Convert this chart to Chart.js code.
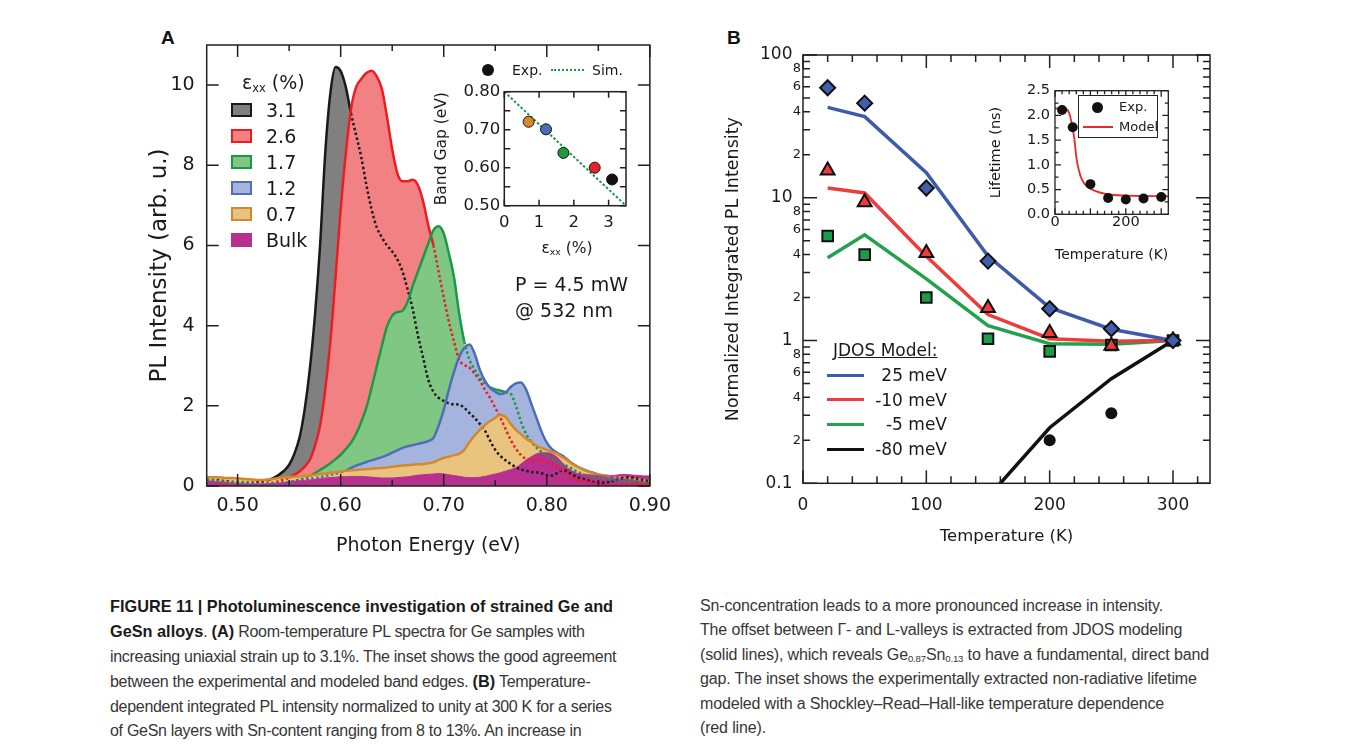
<!DOCTYPE html>
<html>
<head>
<meta charset="utf-8">
<script src="https://cdn.jsdelivr.net/npm/chart.js@4.4.0/dist/chart.umd.min.js"></script>
<style>
body { margin: 0; background: #fff; }
#page { position: relative; width: 1357px; height: 748px; overflow: hidden; background: #fff;
        font-family: 'DejaVu Sans', sans-serif; color: #1a1a1a; }
canvas, .abs { position: absolute; }
.plabel { font: bold 19px 'Liberation Sans', Arial, sans-serif; color: #111; }
.leg { font-size: 19px; white-space: nowrap; }
.box { position: absolute; width: 21px; height: 14px; box-sizing: border-box; border: 2px solid; }
.cap { font: 16px 'Liberation Sans', Arial, sans-serif; letter-spacing: -0.3px; line-height: 24.4px;
       color: #363636; white-space: nowrap; }
.cap b { color: #1a1a1a; letter-spacing: 0; font-size: 16.3px; }
.cap.right { letter-spacing: -0.15px; }
sub { font-size: 0.6em; vertical-align: -0.25em; line-height: 0; }
</style>
</head>
<body>
<div id="page">
  <div class="abs plabel" style="left:161px;top:27px">A</div>
  <div class="abs plabel" style="left:727px;top:27px">B</div>

  <canvas id="chartA" width="560" height="560" style="left:120px;top:20px"></canvas>
  <canvas id="insetA" width="220" height="205" style="left:420px;top:55px"></canvas>
  <canvas id="chartB" width="530" height="540" style="left:700px;top:25px"></canvas>
  <canvas id="insetB" width="205" height="200" style="left:975px;top:75px"></canvas>

  <!-- panel A legend -->
  <div class="abs leg" style="left:242px;top:71px">ε<sub>xx</sub> (%)</div>
  <div id="legA"></div>
  <div class="abs leg" style="left:515px;top:273px">P = 4.5 mW</div>
  <div class="abs leg" style="left:515px;top:299px">@ 532 nm</div>

  <!-- inset A legend and x title -->
  <div class="abs" style="left:482px;top:64px;width:12px;height:12px;border-radius:50%;background:#111"></div>
  <div class="abs" style="left:512px;top:62px;font-size:14px">Exp.</div>
  <div class="abs" style="left:551px;top:69px;width:33px;border-top:2px dotted #1a9a48"></div>
  <div class="abs" style="left:592px;top:62px;font-size:14px">Sim.</div>
  <div class="abs" style="left:567px;top:239px;font-size:15.5px;transform:translateX(-50%);white-space:nowrap">ε<sub>xx</sub> (%)</div>

  <!-- panel B legend -->
  <div class="abs" style="left:833px;top:340px;font-size:17px;text-decoration:underline;white-space:nowrap">JDOS Model:</div>
  <div id="legB"></div>

  <!-- inset B legend -->
  <div class="abs" style="left:1078px;top:95px;width:80px;height:43px;border:1px solid #222;background:#fff;box-sizing:border-box">
    <div class="abs" style="left:13px;top:6px;width:11px;height:11px;border-radius:50%;background:#111"></div>
    <div class="abs" style="left:40px;top:3px;font-size:13px">Exp.</div>
    <div class="abs" style="left:4px;top:30px;width:30px;height:2px;background:#e8282b"></div>
    <div class="abs" style="left:40px;top:23px;font-size:13px">Model</div>
  </div>

  <!-- caption -->
  <div class="abs cap" style="left:110px;top:594px">
    <b>FIGURE 11 | Photoluminescence investigation of strained Ge and</b><br>
    <b>GeSn alloys</b>. <b>(A)</b> Room-temperature PL spectra for Ge samples with<br>
    increasing uniaxial strain up to 3.1%. The inset shows the good agreement<br>
    between the experimental and modeled band edges. <b>(B)</b> Temperature-<br>
    dependent integrated PL intensity normalized to unity at 300 K for a series<br>
    of GeSn layers with Sn-content ranging from 8 to 13%. An increase in
  </div>
  <div class="abs cap right" style="left:700px;top:594px">
    Sn-concentration leads to a more pronounced increase in intensity.<br>
    The offset between Γ- and L-valleys is extracted from JDOS modeling<br>
    (solid lines), which reveals Ge<sub>0.87</sub>Sn<sub>0.13</sub> to have a fundamental, direct band<br>
    gap. The inset shows the experimentally extracted non-radiative lifetime<br>
    modeled with a Shockley–Read–Hall-like temperature dependence<br>
    (red line).
  </div>
</div>

<script>
// ==================== DATA ====================

// panel A: PL spectra, photon energy (eV)
const energy = [
  0.470, 0.475, 0.480, 0.485, 0.490, 0.495, 0.500, 0.505, 0.510, 0.515,
  0.520, 0.525, 0.530, 0.535, 0.540, 0.545, 0.550, 0.555, 0.560, 0.565,
  0.570, 0.575, 0.580, 0.585, 0.590, 0.595, 0.600, 0.605, 0.610, 0.615,
  0.620, 0.625, 0.630, 0.635, 0.640, 0.645, 0.650, 0.655, 0.660, 0.665,
  0.670, 0.675, 0.680, 0.685, 0.690, 0.695, 0.700, 0.705, 0.710, 0.715,
  0.720, 0.725, 0.730, 0.735, 0.740, 0.745, 0.750, 0.755, 0.760, 0.765,
  0.770, 0.775, 0.780, 0.785, 0.790, 0.795, 0.800, 0.805, 0.810, 0.815,
  0.820, 0.825, 0.830, 0.835, 0.840, 0.845, 0.850, 0.855, 0.860, 0.865,
  0.870, 0.875, 0.880, 0.885, 0.890, 0.895, 0.900
];
const pl31 = [
  .15, .15, .15, .13, .12, .10, .10, .08, .08, .08,
  .10, .12, .15, .20, .28, .38, .53, .80, 1.2, 1.9,
  2.9, 4.25, 6.0, 8.3, 9.8, 10.45, 10.35, 9.95, 9.3, 8.75,
  8.2, 7.5, 6.9, 6.45, 6.2, 6.0, 5.85, 5.65, 5.35, 4.9,
  4.4, 3.75, 3.2, 2.65, 2.35, 2.2, 2.12, 2.06, 2.04, 2.03,
  1.95, 1.82, 1.7, 1.55, 1.38, 1.13, 0.9, 0.75, 0.64, 0.55,
  .47, .41, .38, .35, .34, .32, .27, .26, .32, .39,
  .36, .28, .22, .18, .14, .10, .08, .08, .10, .13,
  .16, .20, .22, .20, .17, .14, .12
];
const pl26 = [
  .10, .10, .08, .06, .05, .05, .05, .03, .02, .03,
  .05, .05, .06, .08, .12, .16, .21, .28, .36, .48,
  .65, 1.0, 1.5, 2.4, 3.6, 5.2, 6.9, 8.3, 9.4, 9.95,
  10.15, 10.3, 10.36, 10.22, 9.9, 9.2, 8.4, 7.8, 7.6, 7.6,
  7.64, 7.5, 7.1, 6.5, 6.0, 5.35, 4.7, 4.1, 3.6, 3.15,
  3.02, 2.95, 2.8, 2.63, 2.4, 2.2, 1.95, 1.7, 1.42, 1.15,
  .93, .77, .67, .63, .64, .65, .60, .55, .47, .37,
  .28, .20, .15, .13, .10, .07, .04, .02, 0, 0,
  .02, .04, .05, .05, .05, .05, .05
];
const pl17 = [
  .15, .15, .13, .12, .10, .10, .10, .10, .08, .06,
  .05, .05, .05, .06, .07, .08, .10, .13, .16, .20,
  .25, .32, .40, .48, .57, .67, .78, .92, 1.08, 1.3,
  1.6, 1.96, 2.45, 2.98, 3.5, 3.98, 4.25, 4.34, 4.37, 4.6,
  5.0, 5.35, 5.7, 6.05, 6.38, 6.48, 6.3, 5.8, 5.2, 4.3,
  3.6, 3.15, 2.9, 2.7, 2.56, 2.46, 2.41, 2.38, 2.34, 2.3,
  2.0, 1.6, 1.3, 1.1, .96, .85, .75, .68, .60, .54,
  .49, .42, .35, .29, .25, .22, .20, .18, .16, .15,
  .14, .13, .12, .12, .11, .10, .10
];
const pl12 = [
  .10, .10, .10, .10, .08, .07, .06, .05, .05, .05,
  .05, .05, .05, .06, .07, .08, .10, .12, .14, .16,
  .18, .20, .22, .25, .28, .31, .34, .39, .45, .51,
  .55, .60, .64, .68, .72, .77, .83, .89, .95, .99,
  1.02, 1.05, 1.08, 1.12, 1.2, 1.5, 1.9, 2.4, 2.85, 3.22,
  3.45, 3.53, 3.3, 2.9, 2.62, 2.45, 2.35, 2.29, 2.33, 2.47,
  2.56, 2.58, 2.4, 2.05, 1.7, 1.35, 1.08, .92, .83, .76,
  .66, .56, .48, .42, .37, .33, .29, .25, .22, .20,
  .19, .18, .17, .17, .17, .16, .15
];
const pl07 = [
  .22, .22, .22, .21, .20, .20, .19, .18, .17, .16,
  .15, .15, .16, .18, .20, .21, .22, .23, .24, .25,
  .26, .28, .30, .31, .33, .34, .36, .38, .39, .40,
  .41, .42, .43, .44, .45, .46, .48, .50, .51, .52,
  .53, .54, .55, .57, .59, .65, .70, .73, .77, .80,
  .90, 1.1, 1.26, 1.4, 1.52, 1.62, 1.7, 1.77, 1.72, 1.55,
  1.4, 1.29, 1.18, 1.1, 1.01, .95, .90, .85, .80, .72,
  .64, .55, .48, .41, .36, .32, .29, .27, .25, .23,
  .22, .21, .20, .18, .16, .14, .13
];
const plBulk = [
  .12, .12, .10, .10, .08, .07, .06, .06, .05, .05,
  .05, .05, .06, .06, .07, .08, .10, .12, .13, .14,
  .15, .16, .18, .20, .21, .22, .23, .23, .24, .24,
  .24, .23, .22, .21, .20, .20, .20, .21, .22, .23,
  .25, .27, .28, .29, .30, .31, .30, .28, .26, .24,
  .22, .21, .21, .22, .24, .27, .30, .33, .37, .41,
  .46, .55, .65, .73, .80, .83, .83, .80, .72, .58,
  .45, .37, .31, .29, .28, .27, .26, .25, .25, .26,
  .28, .29, .28, .27, .26, .25, .25
];
const strainLabels = ['3.1', '2.6', '1.7', '1.2', '0.7', 'Bulk'];
const xMajorA = [0.50, 0.60, 0.70, 0.80, 0.90];
const xMinorA = [0.55, 0.65, 0.75, 0.85];
const yMajorA = [0, 2, 4, 6, 8, 10];

// panel A inset: band gap vs strain
const strainExp = [0.7, 1.2, 1.7, 2.6, 3.1];
const gapExp = [0.721, 0.701, 0.639, 0.600, 0.569];
const strainSim = [0, 3.5];
const gapSim = [0.80, 0.50];
const xTicksInA = [0, 1, 2, 3];
const yLabelsInA = [0.50, 0.60, 0.70, 0.80];
const yTicksInA = [0.50, 0.55, 0.60, 0.65, 0.70, 0.75, 0.80];

// panel B: normalized integrated PL intensity vs temperature
const temps = [20, 50, 100, 150, 200, 250, 300];
const jdos25 = [43, 37, 15, 3.9, 1.7, 1.2, 1.0];
const jdosM10 = [11.7, 10.8, 3.9, 1.52, 1.03, 0.99, 1.0];
const jdosM5 = [3.8, 5.5, 2.7, 1.27, 0.95, 0.94, 1.0];
const jdosM80 = [null, null, null, 0.08, 0.245, 0.54, 1.0];
const exp25 = [59, 46, 11.7, 3.6, 1.67, 1.21, 1.0];
const expM10 = [15.5, 9.3, 4.1, 1.69, 1.13, 0.92, 1.0];
const expM5 = [5.4, 4.0, 2.0, 1.03, 0.84, 0.93, 1.0];
const expM80 = [null, null, null, null, 0.20, 0.31, 1.0];
const jdosLabels = ['25 meV', '-10 meV', '-5 meV', '-80 meV'];
const xMajorB = [0, 100, 200, 300];
const xMinorB = [20, 40, 60, 80, 120, 140, 160, 180, 220, 240, 260, 280, 320];
const yMajorB = [0.1, 1, 10, 100];
const yMinorB = [0.2, 0.3, 0.4, 0.5, 0.6, 0.7, 0.8, 0.9, 2, 3, 4, 5, 6, 7, 8, 9,
                 20, 30, 40, 50, 60, 70, 80, 90];

// panel B inset: non-radiative lifetime
const lifeTemp = [20, 50, 100, 150, 200, 250, 300];
const lifeExp = [2.11, 1.76, 0.61, 0.33, 0.30, 0.32, 0.35];
const modelTemp = [0, 30, 40, 48, 55, 60, 67, 76, 91, 119, 166, 242, 320];
const modelLife = [2.14, 2.13, 2.05, 1.81, 1.51, 1.17, 0.90, 0.70, 0.56, 0.46, 0.39, 0.37, 0.365];
const xLabelsInB = [0, 200];
const xMajorInB = [0, 100, 200, 300];
const xMinorInB = [20, 40, 60, 80, 120, 140, 160, 180, 220, 240, 260, 280];
const yMajorInB = [0, 0.5, 1.0, 1.5, 2.0, 2.5];
const yMinorInB = [0.25, 0.75, 1.25, 1.75, 2.25];

// ==================== STYLE ====================

const specLine = ['#1a1a1a', '#ec1c24', '#1a9a48', '#4f6db6', '#d3892b', '#b8308f'];
const specFill = ['#808080', '#f28184', '#80c783', '#a5b4dd', '#e9c47f', '#b8308f'];
const jdosColor = ['#3e5ba9', '#ee3b3b', '#22a24a', '#111111'];
const markFill = ['#3f5fad', '#ee3b3b', '#1e9b4a', '#111111'];
const markStyle = ['rectRot', 'triangle', 'rect', 'circle'];
const markRadius = [7.5, 8, 7.5, 6];
const insetAColors = ['#d08a2c', '#4a6db8', '#1e9a3e', '#e8212a', '#111111'];

Chart.defaults.font.family = "'DejaVu Sans', sans-serif";
Chart.defaults.color = '#1a1a1a';
Chart.defaults.animation = false;

const xy = (xs, ys) => xs.map((x, i) => ({ x: x, y: ys[i] }));

// box round the plot + inward ticks on all four sides
function frameTicks(spec) {
    return {
        id: 'frameTicks',
        afterDatasetsDraw(chart) {
            const { ctx, chartArea: a, scales } = chart;
            ctx.save();
            ctx.strokeStyle = '#231f20';
            ctx.lineWidth = spec.width || 1.5;
            ctx.beginPath();
            spec.x.forEach(([vals, len]) => vals.forEach(v => {
                const px = scales.x.getPixelForValue(v);
                ctx.moveTo(px, a.bottom); ctx.lineTo(px, a.bottom - len);
                ctx.moveTo(px, a.top); ctx.lineTo(px, a.top + len);
            }));
            spec.y.forEach(([vals, len]) => vals.forEach(v => {
                const py = scales.y.getPixelForValue(v);
                ctx.moveTo(a.left, py); ctx.lineTo(a.left + len, py);
                ctx.moveTo(a.right, py); ctx.lineTo(a.right - len, py);
            }));
            ctx.stroke();
            ctx.strokeRect(a.left, a.top, a.right - a.left, a.bottom - a.top);
            ctx.restore();
        }
    };
}

const noGrid = { display: false, drawTicks: false };
const noBorder = { display: false };

// ==================== PANEL A ====================

const specSeries = [pl31, pl26, pl17, pl12, pl07, plBulk];

// a spectrum is drawn dotted where a later (front) spectrum covers it
function covered(i, ctx) {
    const a = ctx.p0DataIndex, b = ctx.p1DataIndex;
    let top0 = -1, top1 = -1;
    for (let j = i + 1; j < specSeries.length; j++) {
        top0 = Math.max(top0, specSeries[j][a]);
        top1 = Math.max(top1, specSeries[j][b]);
    }
    return specSeries[i][a] + specSeries[i][b] < top0 + top1;
}

new Chart(document.getElementById('chartA'), {
    type: 'line',
    data: {
        datasets: specSeries.map((vals, i) => ({
            label: strainLabels[i],
            data: xy(energy, vals),
            order: specSeries.length - i,
            borderColor: specLine[i],
            backgroundColor: specFill[i],
            borderWidth: i === specSeries.length - 1 ? 1 : 2.5,
            fill: 'origin',
            pointRadius: 0,
            cubicInterpolationMode: 'monotone',
            segment: { borderDash: ctx => covered(i, ctx) ? [2.5, 2.5] : undefined }
        }))
    },
    options: {
        responsive: false,
        devicePixelRatio: 1,
        layout: { padding: { left: 0, right: 30, top: 25, bottom: 0 } },
        plugins: {
            legend: { display: false },
            tooltip: { enabled: false },
            filler: { drawTime: 'beforeDatasetsDraw' }
        },
        scales: {
            x: {
                type: 'linear', min: 0.47, max: 0.90,
                afterBuildTicks: s => { s.ticks = xMajorA.map(v => ({ value: v })); },
                afterFit: s => { s.height = 94; },
                grid: noGrid, border: noBorder,
                ticks: { padding: 9, font: { size: 19 }, autoSkip: false, maxRotation: 0, callback: v => v.toFixed(2) },
                title: { display: true, text: 'Photon Energy (eV)', font: { size: 19 }, padding: { top: 0, bottom: 23 } }
            },
            y: {
                min: 0, max: 11,
                afterBuildTicks: s => { s.ticks = yMajorA.map(v => ({ value: v })); },
                afterFit: s => { s.width = 86.7; },
                grid: noGrid, border: noBorder,
                ticks: { padding: 12, font: { size: 19 } },
                title: { display: true, text: 'PL Intensity (arb. u.)', font: { size: 23 }, padding: { top: 26, bottom: 0 } }
            }
        }
    },
    plugins: [frameTicks({ x: [[xMajorA, 12], [xMinorA, 6]], y: [[yMajorA, 12]] })]
});

// legend of panel A
const legA = document.getElementById('legA');
strainLabels.forEach((lab, i) => {
    const cy = 110 + 26 * i;
    legA.insertAdjacentHTML('beforeend',
        `<div class="box" style="left:231px;top:${cy - 7}px;background:${specFill[i]};border-color:${specLine[i]}"></div>` +
        `<div class="abs leg" style="left:266px;top:${cy - 11}px">${lab}</div>`);
});

// ==================== PANEL A INSET ====================

new Chart(document.getElementById('insetA'), {
    type: 'line',
    data: {
        datasets: [{
            data: xy(strainExp, gapExp),
            showLine: false,
            pointRadius: 5.5,
            pointBackgroundColor: insetAColors,
            pointBorderColor: '#111',
            pointBorderWidth: 1
        }, {
            data: xy(strainSim, gapSim),
            borderColor: '#1a9a48',
            borderWidth: 2,
            borderDash: [2.5, 2],
            pointRadius: 0,
            order: 1
        }]
    },
    options: {
        responsive: false,
        devicePixelRatio: 1,
        layout: { padding: { left: 0, right: 14, top: 36.7, bottom: 0 } },
        plugins: { legend: { display: false }, tooltip: { enabled: false } },
        scales: {
            x: {
                type: 'linear', min: 0, max: 3.5,
                afterBuildTicks: s => { s.ticks = xTicksInA.map(v => ({ value: v })); },
                afterFit: s => { s.height = 54.3; },
                grid: noGrid, border: noBorder,
                ticks: { padding: 7.5, font: { size: 16.5 }, autoSkip: false, maxRotation: 0 }
            },
            y: {
                min: 0.5, max: 0.8,
                afterBuildTicks: s => { s.ticks = yLabelsInA.map(v => ({ value: v })); },
                afterFit: s => { s.width = 84.3; },
                grid: noGrid, border: noBorder,
                ticks: { padding: 4, font: { size: 16.5 }, callback: v => v.toFixed(2) },
                title: { display: true, text: 'Band Gap (eV)', font: { size: 15.5 }, padding: { top: 12.4, bottom: 0 } }
            }
        }
    },
    plugins: [frameTicks({ width: 1.5, x: [[xTicksInA, 6]], y: [[yTicksInA, 6]] })]
});

// ==================== PANEL B ====================

const jdosSeries = [jdos25, jdosM10, jdosM5, jdosM80];
const expSeries = [exp25, expM10, expM5, expM80];

const minorLabel = v => {
    const d = Math.round(v / Math.pow(10, Math.floor(Math.log10(v) + 1e-9)));
    return d % 2 === 0 ? String(d) : '';
};

new Chart(document.getElementById('chartB'), {
    type: 'line',
    data: {
        datasets: [
            ...jdosSeries.map((vals, i) => ({
                label: jdosLabels[i],
                data: xy(temps, vals),
                borderColor: jdosColor[i],
                borderWidth: 3.5,
                pointRadius: 0,
                order: 10 + i
            })),
            ...expSeries.map((vals, i) => ({
                data: xy(temps, vals),
                showLine: false,
                pointStyle: markStyle[i],
                pointRadius: markRadius[i],
                pointBackgroundColor: markFill[i],
                pointBorderColor: '#111',
                pointBorderWidth: i === 3 ? 0 : 2,
                order: i
            }))
        ]
    },
    options: {
        responsive: false,
        devicePixelRatio: 1,
        layout: { padding: { left: 0, right: 20, top: 30, bottom: 0 } },
        plugins: { legend: { display: false }, tooltip: { enabled: false } },
        scales: {
            x: {
                type: 'linear', min: 0, max: 330,
                afterBuildTicks: s => { s.ticks = xMajorB.map(v => ({ value: v })); },
                afterFit: s => { s.height = 81.7; },
                grid: noGrid, border: noBorder,
                ticks: { padding: 12, font: { size: 17 }, autoSkip: false, maxRotation: 0 },
                title: { display: true, text: 'Temperature (K)', font: { size: 16.5 }, padding: { top: 0, bottom: 18 } }
            },
            y: {
                type: 'logarithmic', min: 0.1, max: 100,
                afterBuildTicks: s => { s.ticks = yMajorB.concat(yMinorB).map(v => ({ value: v })); },
                afterFit: s => { s.width = 103; },
                grid: noGrid, border: noBorder,
                ticks: {
                    padding: 2,
                    autoSkip: false,
                    font: ctx => ({ size: ctx.tick && yMajorB.includes(ctx.tick.value) ? 17 : 13 }),
                    callback: v => yMajorB.includes(v) ? String(v) + '\u2002' : minorLabel(v)
                },
                title: { display: true, text: 'Normalized Integrated PL Intensity', font: { size: 17.5 }, padding: { top: 22.5, bottom: 0 } }
            }
        }
    },
    plugins: [frameTicks({ x: [[xMajorB, 13], [xMinorB, 7]], y: [[yMajorB, 14], [yMinorB, 7]] })]
});

// legend of panel B
const legB = document.getElementById('legB');
jdosLabels.forEach((lab, i) => {
    const cy = 375 + 24.7 * i;
    legB.insertAdjacentHTML('beforeend',
        `<div class="abs" style="left:827px;top:${cy - 1.5}px;width:37px;height:3px;background:${jdosColor[i]}"></div>` +
        `<div class="abs" style="left:860px;top:${cy - 10}px;width:87px;text-align:right;font-size:17px;white-space:nowrap">${lab}</div>`);
});

// ==================== PANEL B INSET ====================

new Chart(document.getElementById('insetB'), {
    type: 'line',
    data: {
        datasets: [{
            data: xy(lifeTemp, lifeExp),
            showLine: false,
            pointRadius: 5,
            pointBackgroundColor: '#111',
            pointBorderWidth: 0
        }, {
            data: xy(modelTemp, modelLife),
            borderColor: '#e8282b',
            borderWidth: 1.8,
            pointRadius: 0,
            cubicInterpolationMode: 'monotone',
            order: 1
        }]
    },
    options: {
        responsive: false,
        devicePixelRatio: 1,
        layout: { padding: { left: 0, right: 11.7, top: 15.7, bottom: 0 } },
        plugins: { legend: { display: false }, tooltip: { enabled: false } },
        scales: {
            x: {
                type: 'linear', min: 0, max: 320,
                afterBuildTicks: s => { s.ticks = xLabelsInB.map(v => ({ value: v })); },
                afterFit: s => { s.height = 60.7; },
                grid: noGrid, border: noBorder,
                ticks: { padding: -1, font: { size: 14.5 }, autoSkip: false, maxRotation: 0 },
                title: { display: true, text: 'Temperature (K)', font: { size: 14 }, padding: { top: 0, bottom: 11.5 } }
            },
            y: {
                min: 0, max: 2.5,
                afterBuildTicks: s => { s.ticks = yMajorInB.map(v => ({ value: v })); },
                afterFit: s => { s.width = 80; },
                grid: noGrid, border: noBorder,
                ticks: { padding: 5, font: { size: 14.5 }, callback: v => v.toFixed(1) },
                title: { display: true, text: 'Lifetime (ns)', font: { size: 14.5 }, padding: { top: 13, bottom: 0 } }
            }
        }
    },
    plugins: [frameTicks({ width: 1.3, x: [[xMajorInB, 6], [xMinorInB, 3.5]], y: [[yMajorInB, 6], [yMinorInB, 3.5]] })]
});
</script>
</body>
</html>
